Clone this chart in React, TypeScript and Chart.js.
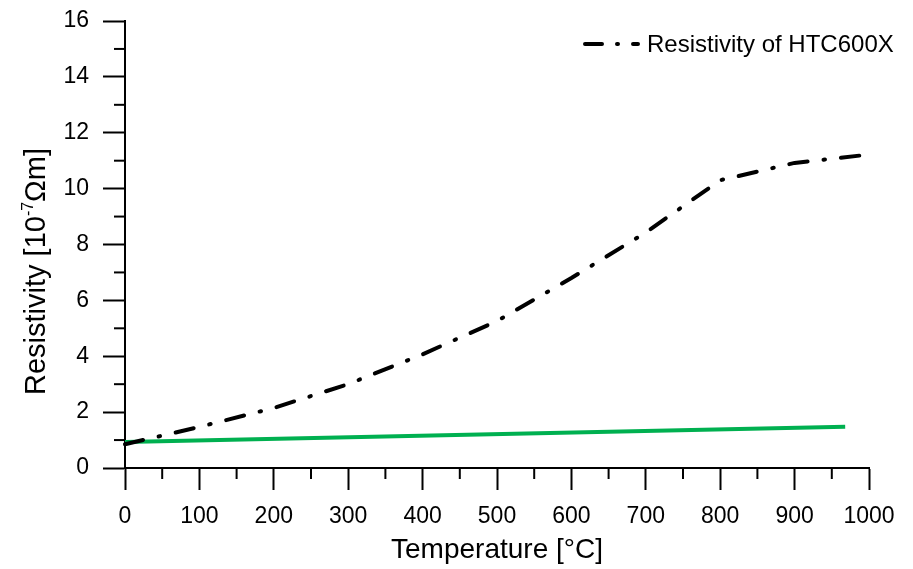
import { useEffect, useRef } from 'react';
import { Chart, registerables } from 'chart.js';

Chart.register(...registerables);

const temperatures = [0, 100, 200, 300, 400, 500, 600, 700, 800, 900, 1000];
const htcResistivity = [0.85, 1.47, 2.15, 3.0, 4.07, 5.26, 6.8, 8.43, 10.3, 10.92, 11.22];
const refTemperatures = [0, 968];
const refResistivity = [0.93, 1.48];
const xMinorTicks = [50, 150, 250, 350, 450, 550, 650, 750, 850, 950];
const yMinorTicks = [1, 3, 5, 7, 9, 11, 13, 15];
const legendLabel = 'Resistivity of HTC600X';
const xTitle = 'Temperature [°C]';
const yTitleMain = 'Resistivity [10';
const yTitleSup = '-7';
const yTitleEnd = 'Ωm]';

const FONT = '"Liberation Sans", Arial, sans-serif';
const DASH = [18.5, 16, 1.5, 16];
const LEGEND_DASH = [17, 15, 1, 15];

const minorTicksPlugin = {
  id: 'minorTicks',
  afterDraw(chart: any) {
    const { ctx, chartArea, scales } = chart;
    const x = scales.x;
    const y = scales.y;
    ctx.save();
    ctx.strokeStyle = '#000';
    ctx.lineWidth = 2;
    xMinorTicks.forEach((v) => {
      const px = x.getPixelForValue(v);
      ctx.beginPath();
      ctx.moveTo(px, chartArea.bottom);
      ctx.lineTo(px, chartArea.bottom + 11);
      ctx.stroke();
    });
    yMinorTicks.forEach((v) => {
      const py = y.getPixelForValue(v);
      ctx.beginPath();
      ctx.moveTo(chartArea.left, py);
      ctx.lineTo(chartArea.left - 11, py);
      ctx.stroke();
    });
    ctx.restore();
  },
};

const yTitlePlugin = {
  id: 'yTitle',
  afterDraw(chart: any) {
    const { ctx, chartArea } = chart;
    ctx.save();
    const mainFont = `29px ${FONT}`;
    const supFont = `16px ${FONT}`;
    ctx.font = mainFont;
    const w1 = ctx.measureText(yTitleMain).width;
    const w3 = ctx.measureText(yTitleEnd).width;
    ctx.font = supFont;
    const w2 = ctx.measureText(yTitleSup).width;
    const total = w1 + w2 + w3;
    const cy = (chartArea.top + chartArea.bottom) / 2 + 27;
    ctx.translate(45, cy);
    ctx.rotate(-Math.PI / 2);
    ctx.fillStyle = '#000';
    ctx.textBaseline = 'alphabetic';
    ctx.textAlign = 'left';
    let cx = -total / 2;
    ctx.font = mainFont;
    ctx.fillText(yTitleMain, cx, 0);
    cx += w1;
    ctx.font = supFont;
    ctx.fillText(yTitleSup, cx, -12);
    cx += w2;
    ctx.font = mainFont;
    ctx.fillText(yTitleEnd, cx, 0);
    ctx.restore();
  },
};

const legendPlugin = {
  id: 'customLegend',
  afterDraw(chart: any) {
    const { ctx, chartArea } = chart;
    const ly = chartArea.top + 23;
    const textX = chartArea.right - 222;
    ctx.save();
    ctx.strokeStyle = '#000';
    ctx.lineWidth = 4;
    ctx.lineCap = 'round';
    ctx.setLineDash(LEGEND_DASH);
    ctx.beginPath();
    ctx.moveTo(textX - 62, ly);
    ctx.lineTo(textX - 9, ly);
    ctx.stroke();
    ctx.setLineDash([]);
    ctx.fillStyle = '#000';
    ctx.font = `24px ${FONT}`;
    ctx.textBaseline = 'middle';
    ctx.textAlign = 'left';
    ctx.fillText(legendLabel, textX, ly + 1);
    ctx.restore();
  },
};

export default function App() {
  const canvasRef = useRef<HTMLCanvasElement | null>(null);

  useEffect(() => {
    document.body.style.margin = '0';
    const canvas = canvasRef.current;
    if (!canvas) return;
    const chart = new Chart(canvas, {
      type: 'scatter',
      data: {
        datasets: [
          {
            label: legendLabel,
            data: temperatures.map((t, i) => ({ x: t, y: htcResistivity[i] })),
            showLine: true,
            borderColor: '#000',
            borderWidth: 4,
            borderDash: DASH,
            borderCapStyle: 'round',
            pointRadius: 0,
            tension: 0,
            fill: false,
            clip: false as any,
          },
          {
            label: 'reference',
            data: refTemperatures.map((t, i) => ({ x: t, y: refResistivity[i] })),
            showLine: true,
            borderColor: '#00b050',
            borderWidth: 4,
            pointRadius: 0,
            tension: 0,
            fill: false,
            clip: false as any,
          },
        ],
      },
      options: {
        animation: false,
        responsive: false,
        events: [],
        layout: { padding: { top: 21, right: 44, left: 0, bottom: 0 } },
        plugins: {
          legend: { display: false },
          tooltip: { enabled: false },
        },
        scales: {
          x: {
            type: 'linear',
            min: 0,
            max: 1000,
            afterFit: (s: any) => {
              s.height = 101;
              s.paddingLeft = 0;
              s.paddingRight = 0;
            },
            ticks: {
              stepSize: 100,
              color: '#000',
              padding: 13,
              font: { family: FONT, size: 23 },
              callback: (v: any) => String(v),
            },
            grid: {
              display: true,
              drawOnChartArea: false,
              drawTicks: true,
              tickLength: 22,
              tickColor: '#000',
              tickWidth: 2,
            },
            border: { display: true, color: '#000', width: 2 },
            title: {
              display: true,
              text: xTitle,
              color: '#000',
              font: { family: FONT, size: 28 },
              padding: { top: 0, bottom: 2 },
            },
          },
          y: {
            type: 'linear',
            min: 0,
            max: 16,
            afterFit: (s: any) => {
              s.width = 125;
              s.paddingTop = 0;
              s.paddingBottom = 0;
            },
            ticks: {
              stepSize: 2,
              color: '#000',
              padding: 14,
              font: { family: FONT, size: 23 },
              callback: (v: any) => String(v),
            },
            grid: {
              display: true,
              drawOnChartArea: false,
              drawTicks: true,
              tickLength: 22,
              tickColor: '#000',
              tickWidth: 2,
            },
            border: { display: true, color: '#000', width: 2 },
          },
        },
      },
      plugins: [minorTicksPlugin, yTitlePlugin, legendPlugin],
    });
    return () => chart.destroy();
  }, []);

  return (
    <div style={{ width: 913, height: 569, background: '#fff' }}>
      <canvas ref={canvasRef} width={913} height={569} />
    </div>
  );
}
